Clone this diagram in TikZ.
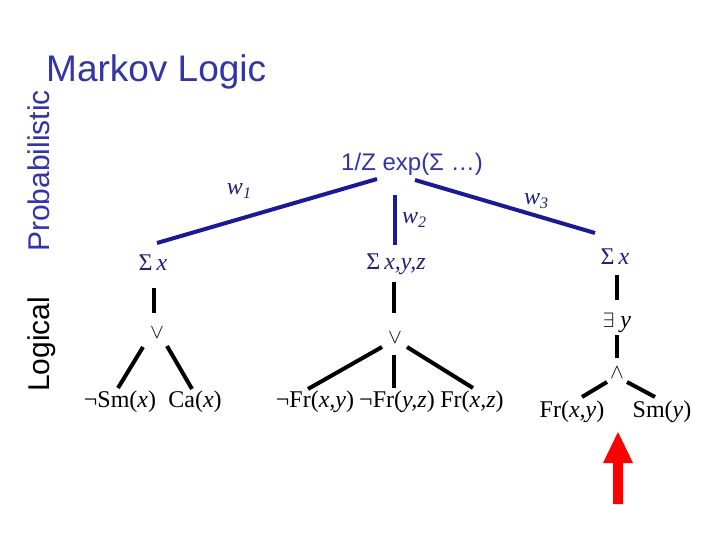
\documentclass[tikz,border=0pt]{standalone}
\usepackage{fontspec}
\setmainfont{Liberation Serif}
\newfontfamily\arialf{Liberation Sans}
\definecolor{titleblue}{RGB}{51,51,170}
\definecolor{navy}{RGB}{26,26,150}
\definecolor{textnavy}{RGB}{32,32,125}
\begin{document}
\begin{tikzpicture}[x=1pt,y=-1pt,
  lbl/.style={anchor=base, inner sep=0pt, font=\fontsize{24}{28}\selectfont},
  qlbl/.style={lbl, text=textnavy},
  opl/.style={inner sep=0pt, font=\fontsize{20}{22}\selectfont},
  sidelbl/.style={anchor=base west, rotate=90, inner sep=0pt, font=\arialf\fontsize{30}{34}\selectfont},
  bline/.style={draw=navy, line width=4pt},
  kline/.style={draw=black, line width=4pt}]
\useasboundingbox (0,0) rectangle (720,540);
% titles
\node[anchor=base west, inner sep=0pt, text=titleblue, font=\arialf\fontsize{37}{40}\selectfont] (title) at (46,82) {Markov Logic};
\node[sidelbl, text=titleblue] (prob) at (49,252) {Probabilistic};
\node[sidelbl, text=black] (logic) at (49,392) {Logical};
% probabilistic layer
\node[lbl, text=titleblue, font=\arialf\fontsize{24}{28}\selectfont] (pz) at (412,171) {1/Z exp(Σ …)};
\node[qlbl] (w1) at (239,195) {\textit{w}\raisebox{-4pt}{\fontsize{16}{16}\selectfont\textit{1}}};
\node[qlbl] (w2) at (414,223) {\textit{w}\raisebox{-4pt}{\fontsize{16}{16}\selectfont\textit{2}}};
\node[qlbl] (w3) at (536,205) {\textit{w}\raisebox{-4pt}{\fontsize{16}{16}\selectfont\textit{3}}};
\node[qlbl] (sx1) at (153,270) {Σ\,\textit{x}};
\node[qlbl] (sxyz) at (396,269) {Σ\,\textit{x,y,z}};
\node[qlbl] (sx3) at (615,264) {Σ\,\textit{x}};
% logical layer
\node[opl] (or1) at (157,333) {$\vee$};
\node[opl] (or2) at (395,338) {$\vee$};
\node[lbl] (ex) at (617,327) {{\fontsize{21}{22}\selectfont$\exists$}\hspace{6pt}\textit{y}};
\node[opl] (and) at (617,373) {$\wedge$};
\node[lbl] (smx) at (120,407) {¬Sm(\textit{x})};
\node[lbl] (cax) at (195,407) {Ca(\textit{x})};
\node[lbl] (frxy) at (315,407) {¬Fr(\textit{x,y})};
\node[lbl] (fryz) at (397,407) {¬Fr(\textit{y,z})};
\node[lbl] (frxz) at (472,407) {Fr(\textit{x,z})};
\node[lbl] (frxy2) at (572,417) {Fr(\textit{x,y})};
\node[lbl] (smy) at (662,417) {Sm(\textit{y})};
% blue connectors
\draw[bline] ([shift={(4,-27)}]sx1.base) -- ([shift={(-35,8)}]pz.base);
\draw[bline] ([shift={(-17,24)}]pz.base) -- ([shift={(-1,-24)}]sxyz.base);
\draw[bline] ([shift={(3,9)}]pz.base) -- ([shift={(-20,-31)}]sx3.base);
% black connectors
\draw[kline] ([shift={(1,18)}]sx1.base) -- ([shift={(-3,-20)}]or1.center);
\draw[kline] ([shift={(-14,14)}]or1.center) -- ([shift={(-2,-19)}]smx.base);
\draw[kline] ([shift={(10,13)}]or1.center) -- ([shift={(-3,-18)}]cax.base);
\draw[kline] ([shift={(-2,13)}]sxyz.base) -- ([shift={(-1,-25)}]or2.center);
\draw[kline] ([shift={(-13,9)}]or2.center) -- ([shift={(-7,-18)}]frxy.base);
\draw[kline] ([shift={(-1,17)}]or2.center) -- ([shift={(-3,-19)}]fryz.base);
\draw[kline] ([shift={(12,9)}]or2.center) -- ([shift={(1,-19)}]frxz.base);
\draw[kline] ([shift={(2,11)}]sx3.base) -- ([shift={(0,-27)}]ex.base);
\draw[kline] ([shift={(0,8)}]ex.base) -- ([shift={(0,-15)}]and.center);
\draw[kline] ([shift={(-10,9)}]and.center) -- ([shift={(10,-20)}]frxy2.base);
\draw[kline] ([shift={(10,9)}]and.center) -- ([shift={(-7,-20)}]smy.base);
% red arrow
\fill[red] (618,432) -- (633,463) -- (623,463) -- (623,504) -- (613,504) -- (613,463) -- (603,463) -- cycle;
\end{tikzpicture}
\end{document}
